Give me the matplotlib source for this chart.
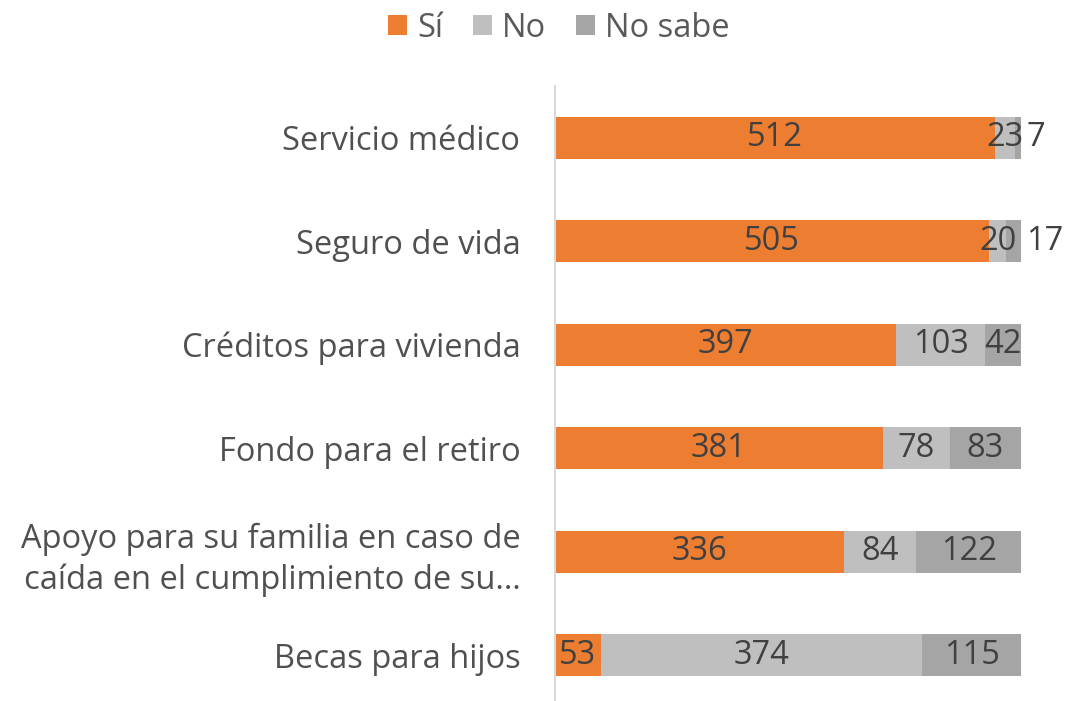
import matplotlib.pyplot as plt
import numpy as np

categories = [
    "Servicio médico",
    "Seguro de vida",
    "Créditos para vivienda",
    "Fondo para el retiro",
    "Apoyo para su familia en caso de\ncaída en el cumplimiento de su…",
    "Becas para hijos",
]
si = [512, 505, 397, 381, 336, 53]
no = [23, 20, 103, 78, 84, 374]
no_sabe = [7, 17, 42, 83, 122, 115]

series = [("Sí", si, "#ED7D31"), ("No", no, "#BFBFBF"), ("No sabe", no_sabe, "#A5A5A5")]
text_color = "#404040"
fs = 23.5

plt.rcParams["font.family"] = ["Open Sans", "DejaVu Sans"]

fig = plt.figure(figsize=(10.87, 7.01), dpi=100)
ax = fig.add_axes([555 / 1087, 1 - 707 / 701, 466 / 1087, 621 / 701])

y = np.arange(len(categories))
left = np.zeros(len(categories))
for name, vals, color in series:
    vals = np.array(vals)
    ax.barh(y, vals, left=left, height=0.41, color=color, label=name)
    for i, (v, l) in enumerate(zip(vals, left)):
        if name == "No sabe" and v < 20:
            # small segments: label sits just right of the bar
            ax.annotate(str(v), (l + v, i), xytext=(4, 0), textcoords="offset points",
                        ha="left", va="center", fontsize=fs, color=text_color)
        else:
            ax.text(l + v / 2, i, str(v), ha="center", va="center",
                    fontsize=fs, color=text_color)
    left += vals

ax.set_xlim(0, 542)
ax.set_ylim(len(categories) - 0.5, -0.5)
ax.set_yticks(y)
ax.set_yticklabels(categories, fontsize=fs, color="#505050", linespacing=1.3)
ax.tick_params(axis="y", length=0, pad=25)
ax.set_xticks([])
for s in ["top", "right", "bottom"]:
    ax.spines[s].set_visible(False)
ax.spines["left"].set_color("#D9D9D9")
ax.spines["left"].set_linewidth(1.5)

handles, labels = ax.get_legend_handles_labels()
leg = fig.legend(handles, labels, loc="center", bbox_to_anchor=(0.514, 0.96), ncol=3,
                 frameon=False, fontsize=fs, handlelength=0.6, handleheight=0.6,
                 handletextpad=0.3, columnspacing=0.9)
for t in leg.get_texts():
    t.set_color("#595959")

fig.savefig("out.png", dpi=100)
